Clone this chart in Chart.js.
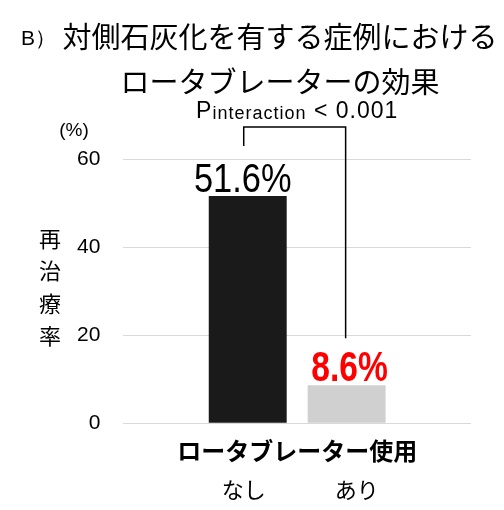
<!DOCTYPE html>
<html lang="ja">
<head>
<meta charset="UTF-8">
<script src="https://cdn.jsdelivr.net/npm/chart.js@4.4.1/dist/chart.umd.min.js"></script>
<title>ロータブレーターの効果</title>
<style>
  body { margin: 0; background: #fff; }
</style>
</head>
<body>
<canvas id="myChart" width="504" height="510"></canvas>
<script>
// data
const groupLabel = 'ロータブレーター使用';
const groups = ['なし', 'あり'];
const rates = [51.6, 8.6];
const yTicks = [0, 20, 40, 60];
const titleLines = ['対側石灰化を有する症例における', 'ロータブレーターの効果'];
const panelTag = 'B）';
const yTitle = '再治療率';
const yUnit = '(%)';
const pMain = 'P', pSub = 'interaction', pRest = ' < 0.001';

const barColors = ['#1a1a1a', '#d0d0d0'];
const labelStyles = [
    { color: '#000000', weight: 'normal', size: 40, squeeze: 0.86, dx: -5 },
    { color: '#ff0000', weight: 'bold', size: 42, squeeze: 0.8, dx: 3 }
];
const CJK = '"Noto Sans CJK JP", sans-serif';
const LAT = '"Liberation Sans", Arial, sans-serif';

const extras = {
    id: 'extras',
    afterDatasetsDraw(chart) {
        const ctx = chart.ctx;
        const area = chart.chartArea;
        const bars = chart.data.datasets.map((d, i) => chart.getDatasetMeta(i).data[0]);
        ctx.save();

        // title
        ctx.fillStyle = '#000';
        ctx.textBaseline = 'middle';
        ctx.textAlign = 'left';
        ctx.font = '21px ' + LAT;
        ctx.fillText(panelTag, 21, 39);
        ctx.textAlign = 'center';
        ctx.font = '29px ' + CJK;
        ctx.fillText(titleLines[0], 280, 37);
        ctx.fillText(titleLines[1], 280, 82);

        // value labels above bars
        bars.forEach((bar, i) => {
            const s = labelStyles[i];
            ctx.save();
            ctx.translate(bar.x + s.dx, bar.y - 4);
            ctx.scale(s.squeeze, 1);
            ctx.fillStyle = s.color;
            ctx.font = s.weight + ' ' + s.size + 'px ' + LAT;
            ctx.textAlign = 'center';
            ctx.textBaseline = 'alphabetic';
            ctx.fillText(rates[i].toFixed(1) + '%', 0, 0);
            ctx.restore();
        });

        // interaction bracket
        const top = area.top - 32;
        ctx.strokeStyle = '#000';
        ctx.lineWidth = 1.5;
        ctx.beginPath();
        ctx.moveTo(bars[0].x - 4, bars[0].y - 50);
        ctx.lineTo(bars[0].x - 4, top);
        ctx.lineTo(bars[1].x - 1, top);
        ctx.lineTo(bars[1].x - 1, bars[1].y - 47);
        ctx.stroke();

        // P interaction text
        ctx.textAlign = 'left';
        ctx.textBaseline = 'alphabetic';
        ctx.letterSpacing = '1px';
        ctx.font = '23px ' + LAT;
        const w1 = ctx.measureText(pMain).width;
        const w3 = ctx.measureText(pRest).width;
        ctx.font = '18px ' + LAT;
        const w2 = ctx.measureText(pSub).width;
        let x = (bars[0].x + bars[1].x) / 2 - (w1 + w2 + w3) / 2;
        const base = top - 9;
        ctx.font = '23px ' + LAT;
        ctx.fillText(pMain, x, base);
        x += w1;
        ctx.font = '18px ' + LAT;
        ctx.fillText(pSub, x, base + 1);
        x += w2;
        ctx.font = '23px ' + LAT;
        ctx.fillText(pRest, x, base);
        ctx.letterSpacing = '0px';

        // y unit and vertical y title
        ctx.textAlign = 'center';
        ctx.textBaseline = 'middle';
        ctx.font = '19px ' + LAT;
        ctx.fillText(yUnit, 74, area.top - 28);
        ctx.font = '22px ' + CJK;
        const mid = (area.top + area.bottom) / 2 - 4;
        [...yTitle].forEach((ch, i) => {
            ctx.fillText(ch, 50, mid + (i - 1.5) * 32.5);
        });

        // group labels under the axis label
        ctx.font = '22px ' + CJK;
        bars.forEach((bar, i) => {
            ctx.fillText(groups[i], bar.x + (i === 0 ? -4 : 10), area.bottom + 66);
        });
        ctx.restore();
    }
};

const ctx = document.getElementById('myChart').getContext('2d');
const myChart = new Chart(ctx, {
    type: 'bar',
    data: {
        labels: [groupLabel],
        datasets: groups.map((g, i) => ({
            label: g,
            data: [rates[i]],
            backgroundColor: barColors[i],
            borderWidth: 0
        }))
    },
    options: {
        responsive: false,
        animation: false,
        categoryPercentage: 0.569,
        barPercentage: 0.788,
        layout: { padding: { top: 159, left: 54, right: 33, bottom: 40 } },
        scales: {
            y: {
                min: yTicks[0],
                max: yTicks[yTicks.length - 1],
                afterBuildTicks: (scale) => { scale.ticks = yTicks.map(v => ({ value: v })); },
                grid: { color: '#d9d9d9', lineWidth: 1, drawTicks: false },
                border: { display: false },
                ticks: { color: '#000', padding: 23, font: { family: LAT, size: 21 } }
            },
            x: {
                grid: { display: false },
                border: { display: false },
                ticks: { color: '#000', padding: 5, maxRotation: 0,
                         font: { family: CJK, size: 24, weight: 'bold' } }
            }
        },
        plugins: {
            legend: { display: false },
            tooltip: { enabled: false }
        }
    },
    plugins: [extras]
});
</script>
</body>
</html>
